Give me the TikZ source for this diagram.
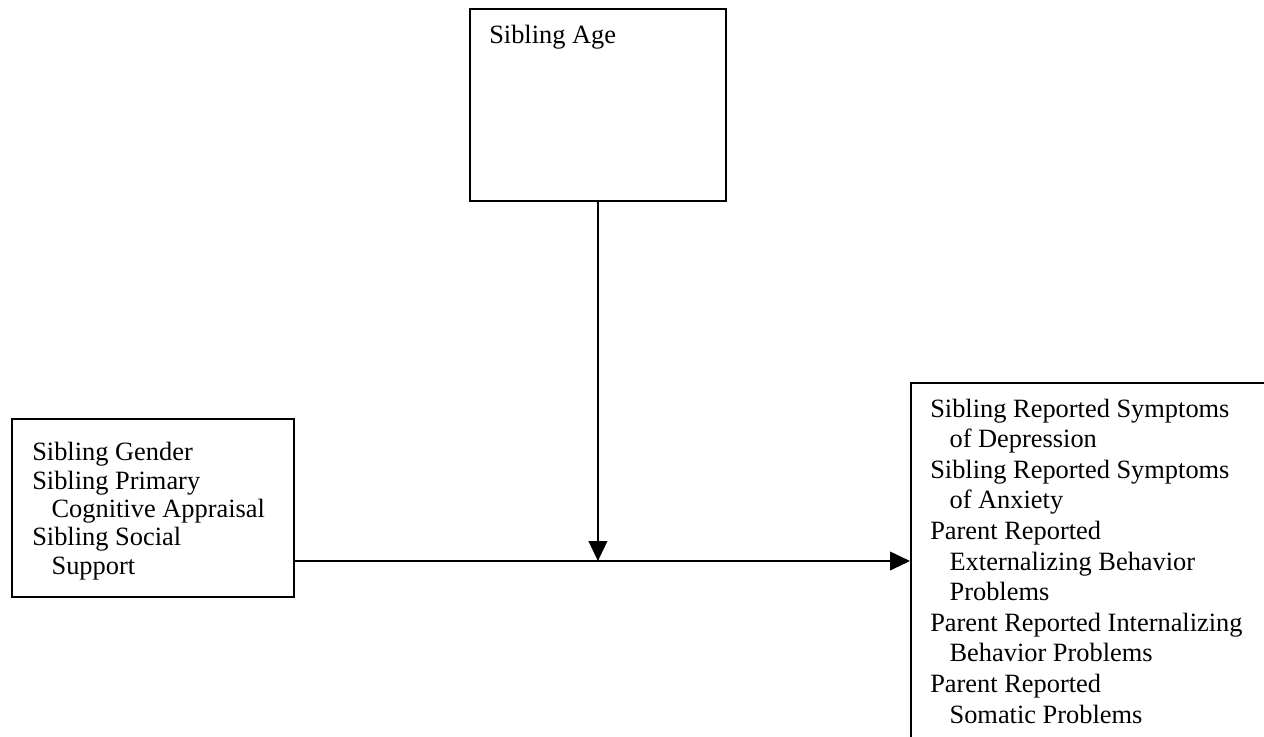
\documentclass[tikz,border=0pt]{standalone}
\usepackage{fontspec}
\setmainfont{Liberation Serif}
\usetikzlibrary{arrows.meta}
\begin{document}
\begin{tikzpicture}[x=0.75pt,y=-0.75pt,
  box/.style={draw=black,line width=1.4pt,rectangle,inner sep=0pt,anchor=north west},
  txt/.style={inner sep=0pt,anchor=base west,align=left},
  conn/.style={line width=1.4pt,-{Triangle[length=15pt,width=14pt]}}]
\clip (0,0) rectangle (1264,736);
\node[box,minimum width=256*0.75pt,minimum height=192*0.75pt] (age) at (469,8) {};
\node[box,minimum width=282*0.75pt,minimum height=178*0.75pt] (left) at (11,418) {};
\node[box,minimum width=400*0.75pt,minimum height=400*0.75pt] (right) at (910,382) {};
\node[txt,font=\fontsize{19.8}{21.2}\selectfont] (agetxt) at (489,43) {Sibling Age};
\node[txt,font=\fontsize{19.8}{21.2}\selectfont] (lefttxt) at (32,574) {Sibling Gender\\Sibling Primary\\\hspace*{14.5pt}Cognitive Appraisal\\Sibling Social\\\hspace*{14.5pt}Support};
\node[txt,font=\fontsize{19.8}{22.95}\selectfont] (righttxt) at (930,723) {Sibling Reported Symptoms\\\hspace*{14.5pt}of Depression\\Sibling Reported Symptoms\\\hspace*{14.5pt}of Anxiety\\Parent Reported\\\hspace*{14.5pt}Externalizing Behavior\\\hspace*{14.5pt}Problems\\Parent Reported Internalizing\\\hspace*{14.5pt}Behavior Problems\\Parent Reported\\\hspace*{14.5pt}Somatic Problems};
\coordinate (j) at (597,561);
\draw[conn] (left.east |- j) -- (right.west |- j);
\draw[conn] (age.south) -- (age.south |- j);
\end{tikzpicture}
\end{document}
